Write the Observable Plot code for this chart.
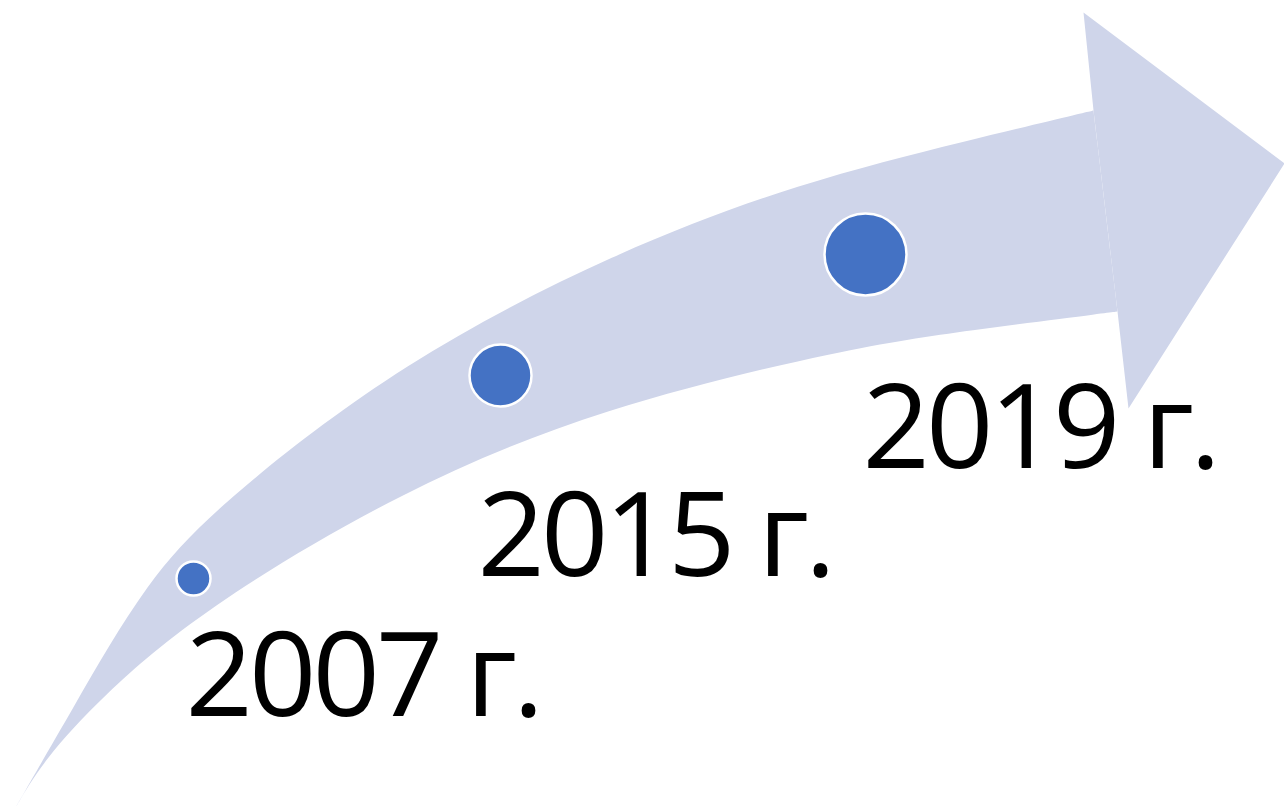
<!DOCTYPE html>
<html>
<head>
<meta charset="utf-8">
<script src="https://cdn.jsdelivr.net/npm/d3@7"></script>
<script src="https://cdn.jsdelivr.net/npm/@observablehq/plot@0.6"></script>
<style>
  html, body { margin: 0; padding: 0; background: #ffffff; }
  #chart svg { display: block; }
</style>
</head>
<body>
<div id="chart"></div>
<script>
// Arrow band outline: upper edge (bottom-left to notch), then lower edge back
const upperX = [15, 70, 147, 223, 400, 617, 800, 967, 1093];
const upperY = [807, 712, 578, 500, 362, 250, 182, 140, 110];
const lowerX = [1117, 967, 850, 600, 400, 200, 100, 43, 15];
const lowerY = [311, 330, 347, 407, 490, 610, 697, 760, 807];
// Arrowhead outline
const headX = [1093, 1083, 1284, 1128, 1117];
const headY = [110, 12, 163, 408, 311];

// Milestones
const years = ["2007 г.", "2015 г.", "2019 г."];
const dotX = [193, 500, 865];
const dotY = [578, 375, 254];
const dotR = [17, 31, 41];
const labelX = [185, 477, 862];
const labelY = [715, 575, 467];

// Corner points are repeated so the B-spline passes through them
const band = [];
upperX.forEach((x, i) => {
  const n = (i === 0 || i === upperX.length - 1) ? 3 : 1;
  for (let k = 0; k < n; k++) band.push({x, y: upperY[i]});
});
lowerX.forEach((x, i) => {
  const n = (i === 0 || i === lowerX.length - 1) ? 3 : 1;
  for (let k = 0; k < n; k++) band.push({x, y: lowerY[i]});
});
const head = headX.map((x, i) => ({x, y: headY[i]}));
const milestones = years.map((label, i) => ({
  label, x: dotX[i], y: dotY[i], r: dotR[i], lx: labelX[i], ly: labelY[i]
}));

const chart = Plot.plot({
  width: 1284,
  height: 807,
  margin: 0,
  x: {domain: [0, 1284], axis: null},
  y: {domain: [807, 0], axis: null},
  r: {type: "identity"},
  style: {background: "#ffffff"},
  marks: [
    Plot.line(band, {x: "x", y: "y", curve: "basis", fill: "#CFD5EA", stroke: "none"}),
    Plot.line(head, {x: "x", y: "y", curve: "linear-closed", fill: "#CFD5EA", stroke: "none"}),
    Plot.dot(milestones, {x: "x", y: "y", r: "r", fill: "#4472C4", stroke: "#ffffff", strokeWidth: 2.5}),
    Plot.text(milestones, {
      x: "lx", y: "ly", text: "label",
      textAnchor: "start", lineAnchor: "bottom",
      fontSize: 118, fill: "#000000",
      fontFamily: "'Open Sans', 'Noto Sans', sans-serif"
    })
  ]
});
d3.select(chart).selectAll("text").attr("letter-spacing", "-4px");
document.getElementById("chart").append(chart);
</script>
</body>
</html>
